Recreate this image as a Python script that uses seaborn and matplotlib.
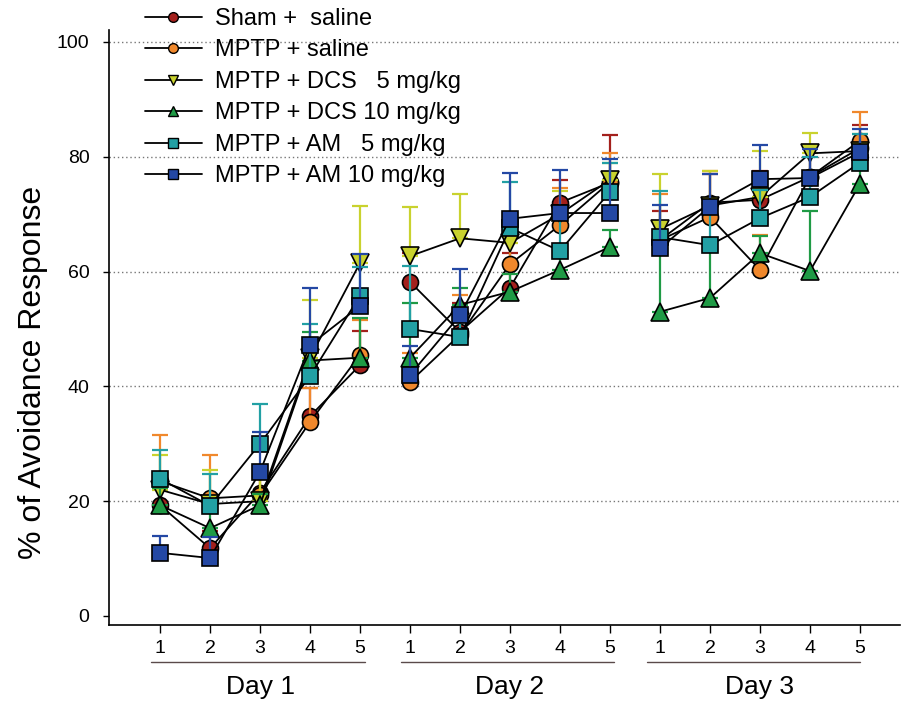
import numpy as np
import pandas as pd
import matplotlib
matplotlib.use("Agg")
import matplotlib.pyplot as plt
import seaborn as sns
from matplotlib.lines import Line2D

# trials 1-5 on each of three days
days = ["Day 1", "Day 2", "Day 3"]
trial_labels = ["1", "2", "3", "4", "5"]

groups = ["Sham +  saline", "MPTP + saline", "MPTP + DCS   5 mg/kg",
          "MPTP + DCS 10 mg/kg", "MPTP + AM   5 mg/kg", "MPTP + AM 10 mg/kg"]

sham_saline = [19.3, 11.8, 21.5, 34.8, 43.7, 58.2, 49.5, 57.2, 72.0, 75.5, 65.5, 72.0, 72.5, 76.5, 81.5]
mptp_saline = [23.5, 20.5, 21.0, 33.8, 45.5, 40.8, 49.0, 61.3, 68.1, 75.6, 65.5, 69.5, 60.3, 76.5, 82.8]
dcs_5 = [22.0, 19.5, 20.0, 45.0, 61.5, 62.7, 65.8, 65.0, 70.0, 76.0, 67.4, 71.5, 73.0, 80.6, 81.0]
dcs_10 = [19.3, 15.3, 19.3, 44.5, 45.0, 45.0, 54.2, 56.5, 60.3, 64.3, 53.0, 55.4, 63.2, 60.1, 75.3]
am_5 = [23.9, 19.2, 30.0, 41.8, 55.8, 50.0, 48.6, 67.6, 63.6, 73.9, 66.0, 64.6, 69.3, 73.0, 79.0]
am_10 = [11.0, 10.1, 25.1, 47.2, 54.0, 42.0, 52.4, 69.2, 70.2, 70.2, 64.1, 71.3, 76.1, 76.3, 80.8]

# upper error bars (SEM)
sham_err = [4, 3, 4, 5, 6, 5, 5, 6, 4, 8.3, 5, 5, 5, 5, 4]
mptp_err = [8, 7.5, 5, 6, 6, 5, 7, 6, 6.5, 5, 8, 8, 6, 5, 5]
dcs5_err = [6, 6, 5, 10, 10, 8.6, 7.8, 5, 4, 3, 9.6, 6, 8, 3.5, 3]
dcs10_err = [3, 3, 2, 5, 7, 9.5, 3, 3, 3, 3, 12, 9, 3, 10.5, 3]
am5_err = [5, 5.5, 7, 9, 5, 11, 5, 8, 6, 5, 8, 6, 5, 7, 5]
am10_err = [3, 3.7, 7, 10, 9, 5, 8, 8, 7.5, 9.5, 7.5, 5.7, 6, 5, 4]

values = [sham_saline, mptp_saline, dcs_5, dcs_10, am_5, am_10]
errors = [sham_err, mptp_err, dcs5_err, dcs10_err, am5_err, am10_err]
colors = ["#a3201c", "#f0882c", "#c9d22e", "#1f9a45", "#22a0a4", "#2448a4"]
markers = ["o", "o", "v", "^", "s", "s"]
sizes = [11.5, 11.5, 12.5, 12.5, 11.5, 11.5]

rows = []
for g, vals in zip(groups, values):
    for i, v in enumerate(vals):
        rows.append({"group": g, "pos": i + 1, "day": days[i // 5], "value": v})
df = pd.DataFrame(rows)

sns.set_theme(style="white")
plt.rcParams["font.family"] = ["Liberation Sans", "DejaVu Sans"]
plt.rcParams["text.color"] = "black"
plt.rcParams["xtick.color"] = "black"
plt.rcParams["ytick.color"] = "black"

fig = plt.figure(figsize=(9.02, 7.06), dpi=100)
ax = fig.add_axes([109 / 902, 81 / 706, 791 / 902, 594.5 / 706])

for k, g in enumerate(groups):
    sub = df[df["group"] == g]
    ax.errorbar(sub["pos"], sub["value"], yerr=[np.zeros(len(sub)), errors[k]],
                fmt="none", ecolor=colors[k], elinewidth=1.6, capsize=6,
                capthick=1.6, zorder=2 + k)
    sns.lineplot(data=sub, x="pos", y="value", units="day", estimator=None,
                 color="black", linewidth=1.3, ax=ax, zorder=2 + k, legend=False)
    ax.plot(sub["pos"], sub["value"], linestyle="none", marker=markers[k],
            markersize=sizes[k], markerfacecolor=colors[k],
            markeredgecolor="black", markeredgewidth=1.2, zorder=2.5 + k)

ax.set_xlim(-0.02, 15.8)
ax.set_ylim(-1.57, 102)
ax.set_xticks(range(1, 16))
ax.set_xticklabels(trial_labels * 3, fontsize=14)
ax.set_yticks([0, 20, 40, 60, 80, 100])
ax.set_yticklabels(["0", "20", "40", "60", "80", "100"], fontsize=14)
ax.tick_params(axis="x", direction="out", length=6, width=1, pad=5, bottom=True)
ax.tick_params(axis="y", direction="out", length=4, width=1, pad=10, left=True)
ax.set_xlabel("")
ax.set_ylabel("")

for y in [20, 40, 60, 80, 100]:
    ax.axhline(y, color="#777777", linestyle=(0, (1, 2)), linewidth=1, zorder=1)

for s in ["top", "right"]:
    ax.spines[s].set_visible(False)
for s in ["left", "bottom"]:
    ax.spines[s].set_color("black")
    ax.spines[s].set_linewidth(1.2)

# day brackets under the tick labels
trans = ax.get_xaxis_transform()
spans = [(0.82, 5.1), (5.82, 10.08), (10.74, 15.0)]
for (a, b), d, c in zip(spans, days, [3, 8, 13]):
    ax.plot([a, b], [-0.062, -0.062], color="#5a4a4a", linewidth=1,
            transform=trans, clip_on=False)
    ax.text(c, -0.105, d, transform=trans, ha="center", va="center", fontsize=19)

fig.text(33 / 902, 1 - 372 / 706, "% of Avoidance Response", rotation=90,
         ha="center", va="center", fontsize=23)

handles = [Line2D([0], [0], color="black", linewidth=1.3, marker=m,
                  markersize=7, markerfacecolor=c, markeredgecolor="black")
           for m, c in zip(markers, colors)]
fig.legend(handles, groups, loc="upper left", bbox_to_anchor=(145 / 902, 1 - 8 / 706),
           frameon=False, fontsize=17, handlelength=2.4, handletextpad=0.55,
           labelspacing=0.4, borderpad=0, borderaxespad=0)

fig.savefig("out.png", dpi=100)
